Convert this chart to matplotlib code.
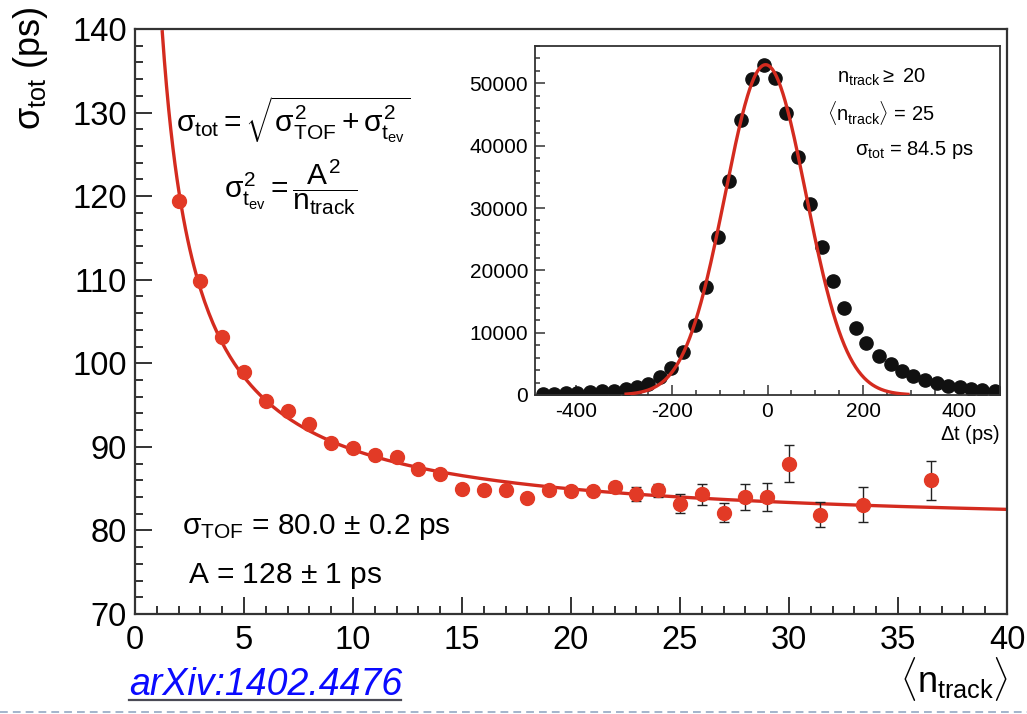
import numpy as np
import matplotlib
matplotlib.use("Agg")
import matplotlib.pyplot as plt
from matplotlib.lines import Line2D
from matplotlib.ticker import MultipleLocator

plt.rcParams["font.family"] = ["Liberation Sans", "DejaVu Sans"]
plt.rcParams["mathtext.fontset"] = "custom"
plt.rcParams["mathtext.rm"] = "Liberation Sans"
plt.rcParams["mathtext.it"] = "Liberation Sans"
plt.rcParams["mathtext.sf"] = "Liberation Sans"
plt.rcParams["mathtext.bf"] = "Liberation Sans:bold"
plt.rcParams["axes.unicode_minus"] = False

# main panel: sigma_tot vs <n_track>
n_track = [2, 3, 4, 5, 6, 7, 8, 9, 10, 11, 12, 13, 14, 15, 16, 17, 18, 19,
           20, 21, 22, 23, 24, 25, 26, 27, 28, 29, 30, 31.4, 33.4, 36.5]
sigma_tot = [119.4, 109.8, 103.2, 98.9, 95.5, 94.3, 92.7, 90.5, 89.9, 89.0,
             88.8, 87.4, 86.7, 84.9, 84.8, 84.8, 83.9, 84.8, 84.7, 84.7,
             85.2, 84.4, 84.8, 83.2, 84.3, 82.1, 84.0, 84.0, 88.0, 81.9,
             83.1, 86.0]
sigma_err = [0.3, 0.3, 0.3, 0.3, 0.3, 0.3, 0.3, 0.3, 0.3, 0.3, 0.3, 0.3,
             0.3, 0.3, 0.3, 0.3, 0.3, 0.3, 0.4, 0.5, 0.6, 0.85, 0.75, 1.1,
             1.2, 1.15, 1.5, 1.7, 2.2, 1.5, 2.05, 2.3]
# fit parameters (ps)
SIGMA_TOF = 80.0
A_PAR = 128.0

# inset: delta t distribution
dt = [-468, -446, -421, -398, -370, -346, -321, -296, -273, -249, -225,
      -201, -177, -152, -129, -104, -81, -56, -32, -8, 16, 39, 63, 89,
      113, 136, 160, 184, 206, 232, 257, 280, 304, 329, 354, 377, 401,
      424, 448, 474]
counts = [110, 160, 270, 370, 430, 590, 690, 1010, 1330, 1760, 2940, 4380,
          6940, 11310, 17290, 25350, 34370, 44130, 50690, 52940, 50910,
          45250, 38150, 30680, 23750, 18250, 13980, 10780, 8270, 6300,
          4960, 3900, 3040, 2400, 1870, 1490, 1230, 1010, 800, 690]
# gaussian fit
G_AMP, G_MEAN, G_SIGMA = 53000, -4, 84.5

W, H = 1027, 714
RED_PT = "#e23a26"
RED_LN = "#d42b1f"
FRAME = "#333333"


def fx(px):
    return px / W


def fy(py):
    return 1 - py / H


fig = plt.figure(figsize=(W / 100, H / 100), dpi=100)

# ---- main axes ----
ax = fig.add_axes([fx(135), fy(614), (1007 - 135) / W, (614 - 29) / H])
xf = np.linspace(1.25, 40, 400)
ax.plot(xf, np.sqrt(SIGMA_TOF**2 + A_PAR**2 / xf), color=RED_LN, lw=2.4, zorder=2)
ax.errorbar(n_track, sigma_tot, yerr=sigma_err, fmt="o", ms=10, color=RED_PT,
            ecolor="#222222", elinewidth=1.0, capsize=3.5, capthick=1.0,
            mec=RED_PT, zorder=3)
ax.set_xlim(0, 40)
ax.set_ylim(70, 140)
ax.xaxis.set_major_locator(MultipleLocator(5))
ax.xaxis.set_minor_locator(MultipleLocator(1))
ax.yaxis.set_major_locator(MultipleLocator(10))
ax.yaxis.set_minor_locator(MultipleLocator(2))
ax.tick_params(which="both", direction="in", top=False, right=False,
               color=FRAME, width=1.4)
ax.tick_params(which="major", length=12, labelsize=23.5)
ax.tick_params(which="minor", length=6)
ax.tick_params(axis="x", which="major", pad=8)
ax.tick_params(axis="y", which="major", pad=6)
for s in ax.spines.values():
    s.set_color(FRAME)
    s.set_linewidth(1.6)

fig.text(fx(30), fy(6), r"$\sigma_{tot}$ (ps)", rotation=90, ha="center",
         va="top", fontsize=26)
fig.text(fx(1008), fy(655), r"$\langle n_{track}\rangle$", ha="right",
         va="top", fontsize=26)

fig.text(fx(176), fy(120),
         r"$\sigma_{tot} = \sqrt{\sigma^2_{TOF} + \sigma^2_{t_{ev}}}$",
         ha="left", va="center", fontsize=21.5)
fig.text(fx(224), fy(187), r"$\sigma^2_{t_{ev}} = \dfrac{A^2}{n_{track}}$",
         ha="left", va="center", fontsize=21.5)
fig.text(fx(182), fy(534), r"$\sigma_{TOF}$ = 80.0 $\pm$ 0.2 ps",
         ha="left", va="baseline", fontsize=21.5)
fig.text(fx(188), fy(583), r"A = 128 $\pm$ 1 ps",
         ha="left", va="baseline", fontsize=21.5)

# ---- inset ----
ins = fig.add_axes([fx(535), fy(395), (1000 - 535) / W, (395 - 46) / H])
ins.plot(dt, counts, "o", ms=9.5, color="#111111", zorder=2)
xg = np.linspace(-295, 293, 400)
ins.plot(xg, G_AMP * np.exp(-0.5 * ((xg - G_MEAN) / G_SIGMA) ** 2),
         color=RED_LN, lw=2.4, zorder=3)
ins.set_xlim(-485, 485)
ins.set_ylim(0, 56000)
ins.xaxis.set_major_locator(MultipleLocator(200))
ins.xaxis.set_minor_locator(MultipleLocator(50))
ins.yaxis.set_major_locator(MultipleLocator(10000))
ins.yaxis.set_minor_locator(MultipleLocator(2000))
ins.tick_params(which="both", direction="in", top=False, right=False,
                color=FRAME, width=1.1)
ins.tick_params(which="major", length=7, labelsize=15, pad=5)
ins.tick_params(which="minor", length=3.5)
for s in ins.spines.values():
    s.set_color(FRAME)
    s.set_linewidth(1.3)

fig.text(fx(1000), fy(423), r"$\Delta$t (ps)", ha="right", va="top", fontsize=14.5)
fig.text(fx(837), fy(77), r"$n_{track} \geq$ 20", ha="left", va="center",
         fontsize=14.5)
fig.text(fx(827), fy(113), r"$\langle n_{track}\rangle$ = 25", ha="left",
         va="center", fontsize=14.5)
fig.text(fx(855), fy(150), r"$\sigma_{tot}$ = 84.5 ps", ha="left",
         va="center", fontsize=14.5)

# ---- link and page decoration ----
fig.text(fx(129), fy(695), "arXiv:1402.4476", color="#0a0aff", style="italic",
         ha="left", va="baseline", fontsize=27)
fig.add_artist(Line2D([fx(129), fx(401)], [fy(700), fy(700)],
                      transform=fig.transFigure, color="#4a4a55", lw=1.6))
fig.add_artist(Line2D([0, 1], [fy(711.5), fy(711.5)], transform=fig.transFigure,
                      color="#a3b4cc", lw=1.4, ls=(0, (4, 2.6))))

fig.savefig("out.png", dpi=100)
